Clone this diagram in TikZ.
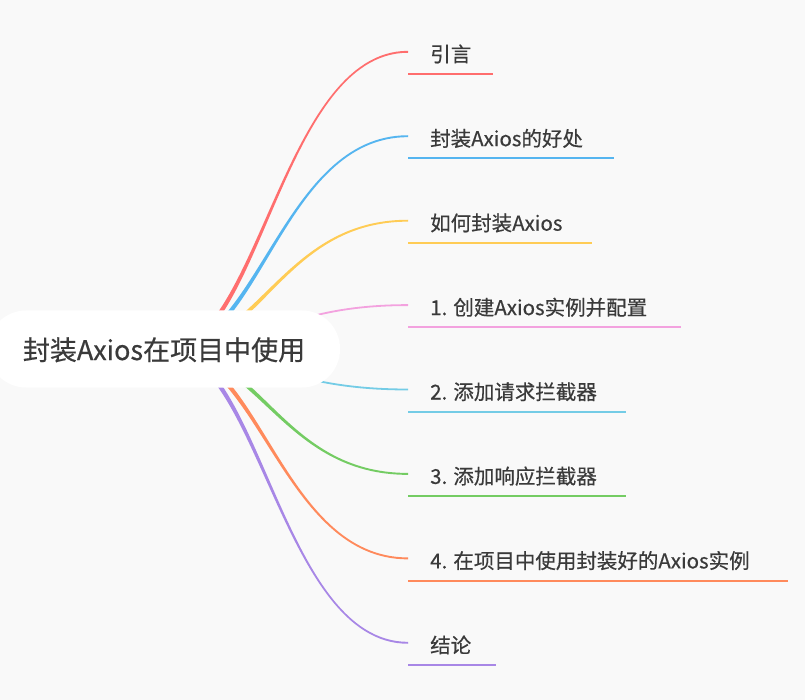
\documentclass[tikz,border=0pt]{standalone}
\usepackage{fontspec}
\setmainfont{Noto Sans CJK SC}[FakeBold=0.5]
\usetikzlibrary{calc}
\definecolor{bgc}{HTML}{F9F9F9}
\definecolor{txt}{HTML}{3A3A3A}
\definecolor{cred}{HTML}{FF6E6E}
\definecolor{cblue}{HTML}{55B5F0}
\definecolor{cyellow}{HTML}{FFCC55}
\definecolor{cpink}{HTML}{F3A2DF}
\definecolor{ccyan}{HTML}{74CCE6}
\definecolor{cgreen}{HTML}{74CC63}
\definecolor{corange}{HTML}{FF8A5C}
\definecolor{cpurple}{HTML}{A887E6}
\tikzset{
  childnode/.style={inner xsep=22pt, inner ysep=8pt, text height=16pt, text depth=4pt,
    text=txt, font=\fontsize{20.5}{24}\selectfont},
  rootnode/.style={fill=white, rounded corners=38pt, minimum width=352pt, minimum height=77pt,
    inner sep=0pt, text height=26pt, text depth=4pt, text=txt, font=\fontsize{27}{32}\selectfont},
}
% name, underline y, underline length, colour, text
\newcommand{\mmchild}[5]{%
  \node[childnode, anchor=south west] (#1) at (408,#2) {#5};
  \draw[#4, line width=1.9pt] (#1.south west) -- ++(#3,0);
  \coordinate (#1e) at ($(#1.base west)+(0,-10)$);
}
% colour, end coordinate, sign (1 up, -1 down): tapered curve
\newcommand{\mmthick}[3]{%
  \fill[#1] ($(o)+(1.7,#3*1.7)$) .. controls ($(o)+(92.7,#3*1.7)$) and ($(#2)+(-126,#3*0.95)$) .. ($(#2)+(0,#3*0.95)$)
    -- ($(#2)+(0,-#3*0.95)$) .. controls ($(#2)+(-126,-#3*0.95)$) and ($(o)+(89.3,-#3*1.7)$) .. ($(o)+(-1.7,-#3*1.7)$) -- cycle;
}
\newcommand{\mmthin}[2]{%
  \draw[#1, line width=1.8pt] (o) .. controls ($(o)+(91,0)$) and ($(#2)+(-126,0)$) .. (#2);
}
\begin{document}
\begin{tikzpicture}[x=1pt, y=-1pt]
\useasboundingbox (0,0) rectangle (805,700);
\clip (0,0) rectangle (805,700);
\fill[bgc] (0,0) rectangle (805,700);
\coordinate (o) at (168,350);
\mmchild{n1}{74}{85}{cred}{引言}
\mmchild{n2}{158.4}{206}{cblue}{封装Axios的好处}
\mmchild{n3}{242.9}{184}{cyellow}{如何封装Axios}
\mmchild{n4}{327.3}{273}{cpink}{1. 创建Axios实例并配置}
\mmchild{n5}{411.7}{218}{ccyan}{2. 添加请求拦截器}
\mmchild{n6}{496.1}{218}{cgreen}{3. 添加响应拦截器}
\mmchild{n7}{580.6}{380}{corange}{4. 在项目中使用封装好的Axios实例}
\mmchild{n8}{665}{88}{cpurple}{结论}
\mmthick{cred}{n1e}{1}
\mmthick{cblue}{n2e}{1}
\mmthick{cyellow}{n3e}{1}
\mmthin{cpink}{n4e}
\mmthin{ccyan}{n5e}
\mmthick{cgreen}{n6e}{-1}
\mmthick{corange}{n7e}{-1}
\mmthick{cpurple}{n8e}{-1}
\node[rootnode] (root) at (164,349) {封装Axios在项目中使用};
\end{tikzpicture}
\end{document}
